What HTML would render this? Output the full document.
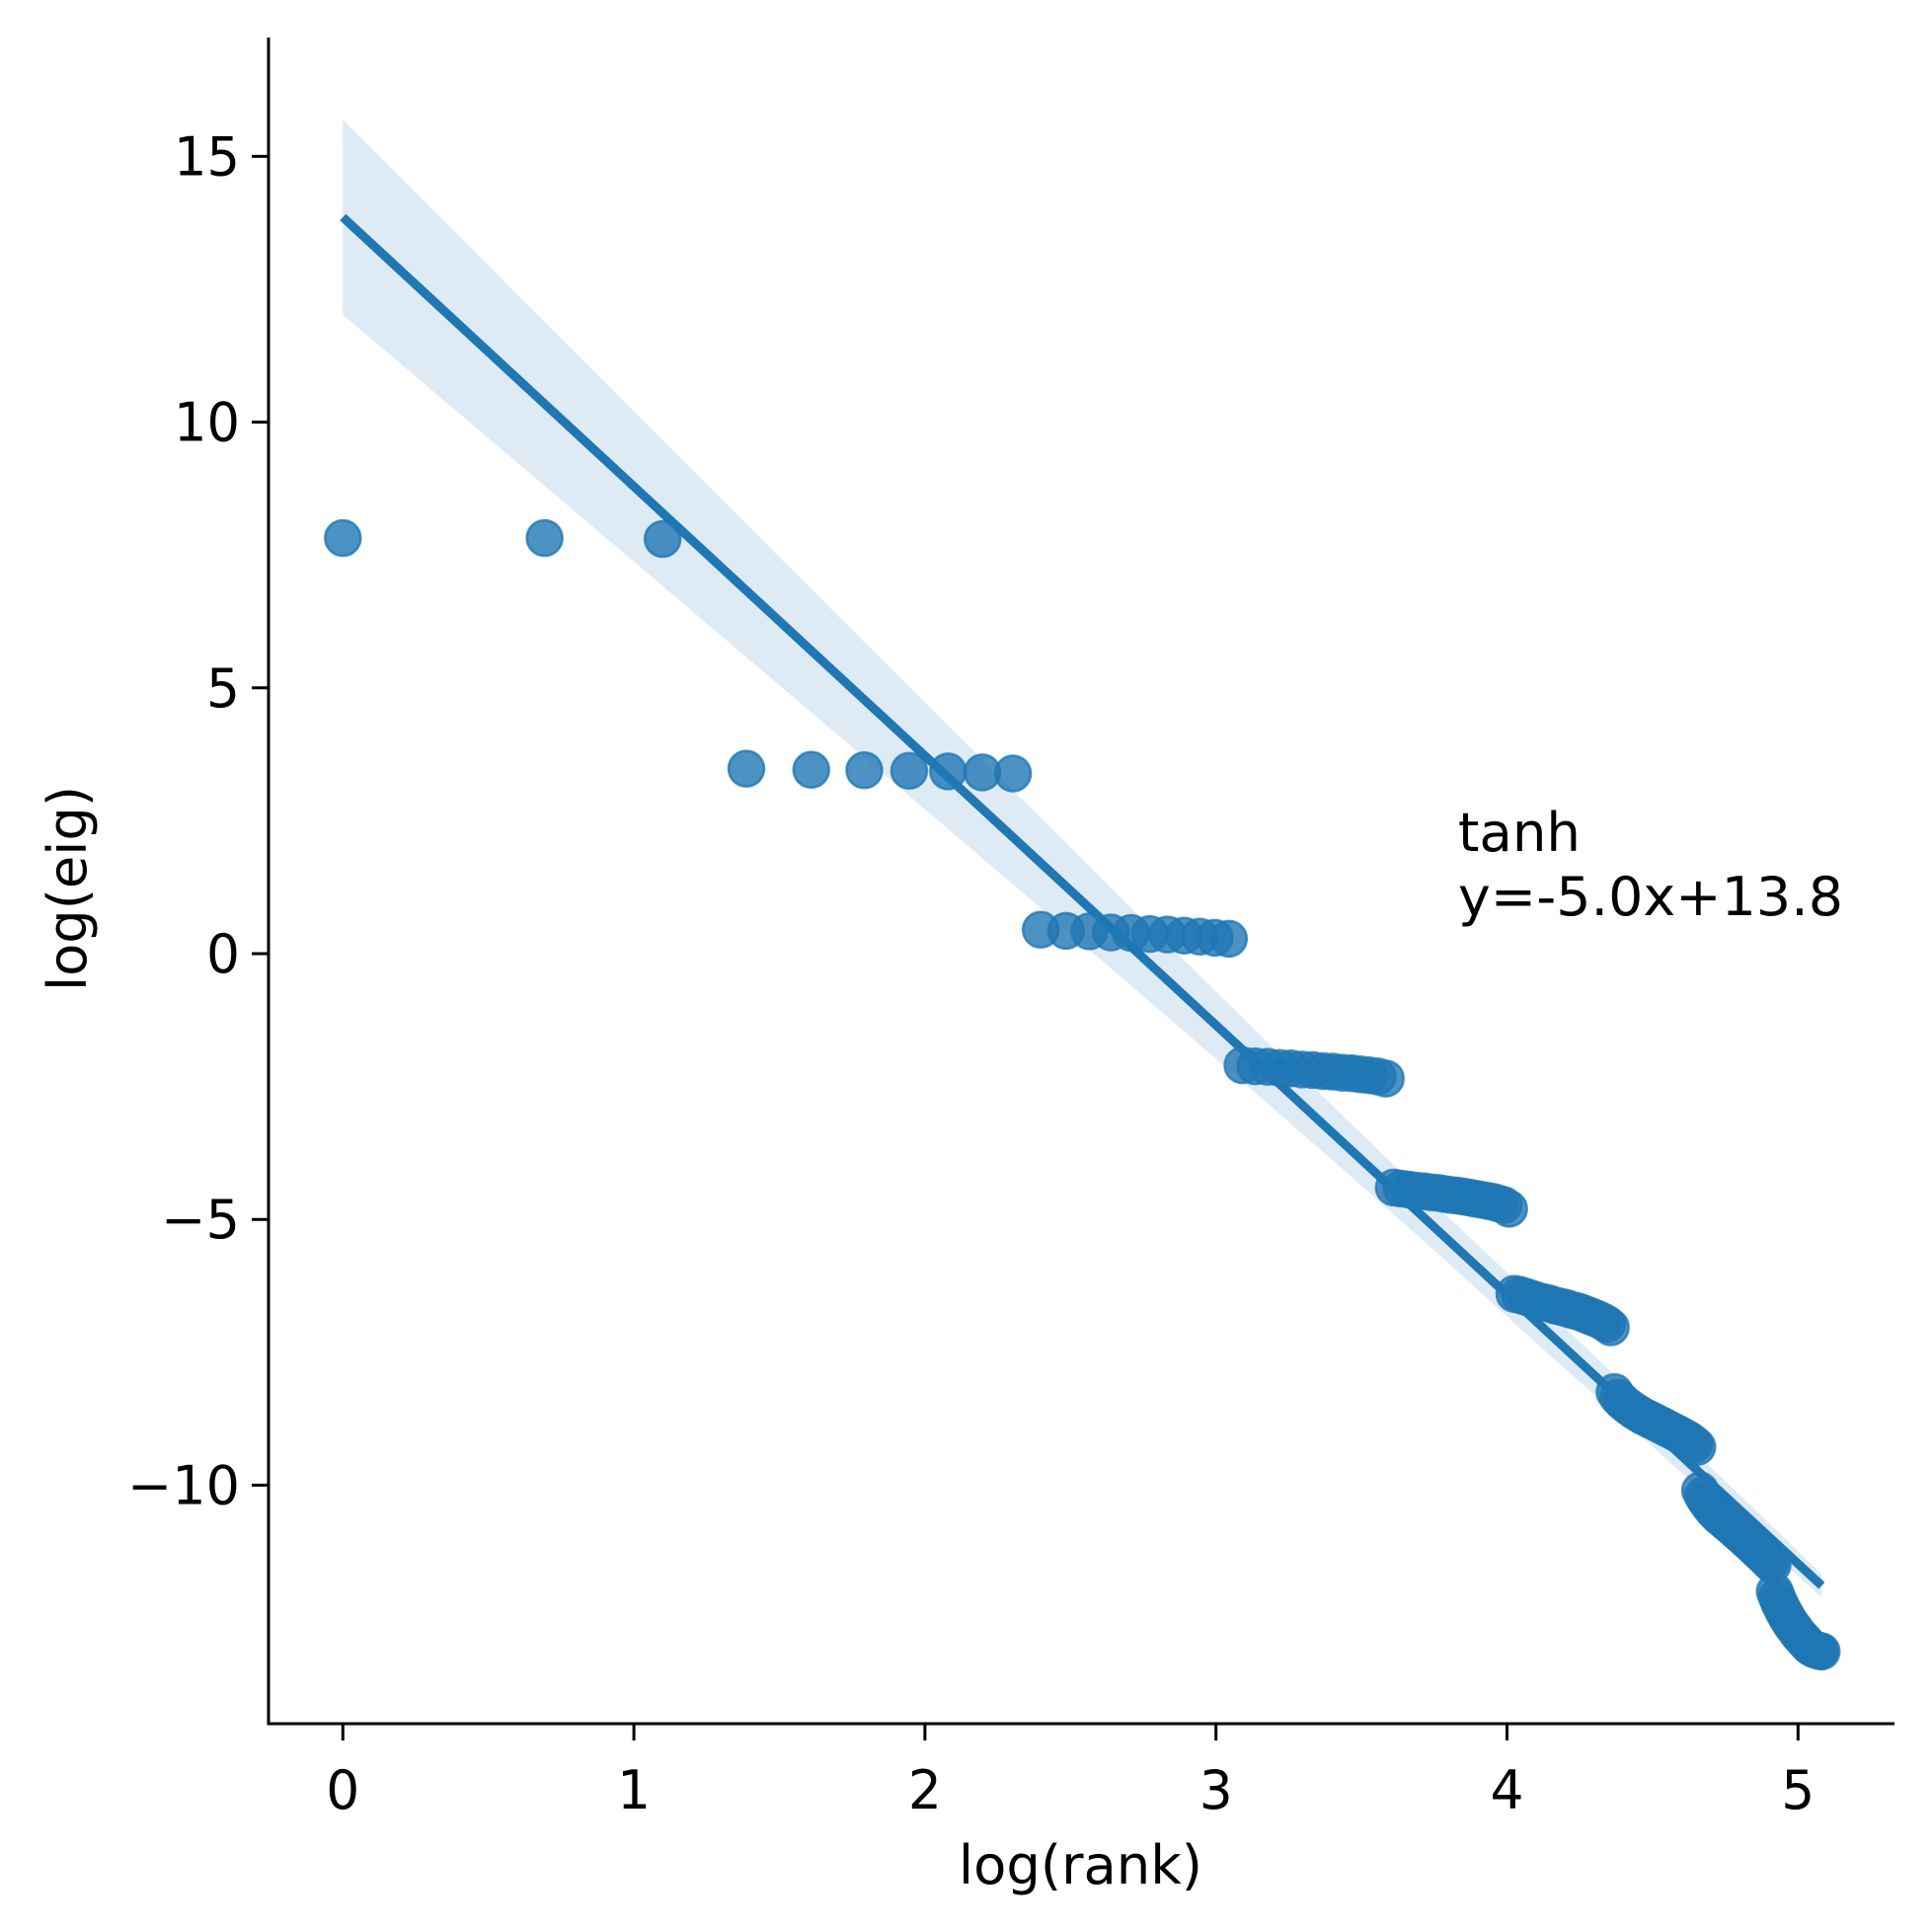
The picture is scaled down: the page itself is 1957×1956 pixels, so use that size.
<!DOCTYPE html>
<html><head><meta charset="utf-8"><style>
html,body{margin:0;padding:0;background:#fff;}
svg{display:block;font-family:"DejaVu Sans","Liberation Sans",sans-serif;}
</style></head><body>
<svg id="chart" width="1957" height="1956" viewBox="0 0 1957 1956" xmlns="http://www.w3.org/2000/svg">
<rect width="1957" height="1956" fill="#fff"/>
<g id="band"></g>
<g id="line"></g>
<g id="points"></g>
<g id="axes"></g>
<text x="1477" y="862" font-size="54" textLength="124" lengthAdjust="spacingAndGlyphs">tanh</text>
<text id="eq" x="1477" y="927" font-size="54" textLength="390" lengthAdjust="spacingAndGlyphs">y=-5.0x+13.8</text>
<text x="971" y="1908" font-size="54" textLength="247" lengthAdjust="spacingAndGlyphs">log(rank)</text>
<text x="-104" y="0" font-size="54" textLength="208" lengthAdjust="spacingAndGlyphs" transform="translate(87,900) rotate(-90)">log(eig)</text>
</svg>
<script>
const eigA = [7.82,7.82,7.80];
const eigB = [3.48,3.46,3.45,3.44,3.43,3.41,3.39];
const eigC = [0.45,0.43,0.42,0.40,0.39,0.37,0.36,0.34,0.32,0.30,0.28];
const eigD = [-2.10,-2.12,-2.13,-2.15,-2.16,-2.18,-2.19,-2.21,-2.22,-2.24,-2.25,-2.27,-2.29,-2.31,-2.35];
const eigE = [-4.40,-4.42,-4.44,-4.46,-4.47,-4.49,-4.50,-4.52,-4.54,-4.55,-4.57,-4.59,-4.61,-4.63,-4.65,-4.67,-4.70,-4.73,-4.80];
const eigF = [-6.40,-6.42,-6.45,-6.48,-6.51,-6.54,-6.56,-6.58,-6.61,-6.63,-6.65,-6.67,-6.70,-6.72,-6.74,-6.77,-6.80,-6.83,-6.86,-6.89,-6.93,-6.97,-7.03];
const eigG = [-8.25,-8.35,-8.42,-8.48,-8.53,-8.58,-8.62,-8.66,-8.70,-8.73,-8.76,-8.79,-8.82,-8.85,-8.88,-8.91,-8.94,-8.97,-9.00,-9.03,-9.06,-9.09,-9.12,-9.15,-9.19,-9.23,-9.28];
const eigH = [-10.10,-10.20,-10.28,-10.35,-10.42,-10.48,-10.53,-10.58,-10.62,-10.66,-10.70,-10.74,-10.78,-10.82,-10.86,-10.90,-10.94,-10.98,-11.02,-11.06,-11.10,-11.14,-11.18,-11.22,-11.26,-11.30,-11.34,-11.38,-11.42,-11.46,-11.50];
const eigI = [-12.00,-12.10,-12.20,-12.28,-12.36,-12.43,-12.50,-12.56,-12.62,-12.67,-12.72,-12.77,-12.82,-12.86,-12.90,-12.94,-12.98,-13.02,-13.05,-13.07,-13.09,-13.10,-13.11,-13.12,-13.13];
const xTicks = [0,1,2,3,4,5];
const yTicks = [-10,-5,0,5,10,15];

const NS='http://www.w3.org/2000/svg';
const X0=347.3, XU=294.8, Y0=966, YU=53.84;
const xs=v=>X0+v*XU, ys=v=>Y0-v*YU;
function mk(tag,attrs,parent){const e=document.createElementNS(NS,tag);for(const k in attrs)e.setAttribute(k,attrs[k]);parent.appendChild(e);return e;}

const eig=[].concat(eigA,eigB,eigC,eigD,eigE,eigF,eigG,eigH,eigI);
const lx=eig.map((_,i)=>Math.log(i+1));
const n=eig.length;
const mx=lx.reduce((a,b)=>a+b,0)/n, my=eig.reduce((a,b)=>a+b,0)/n;
let sxx=0,sxy=0;for(let i=0;i<n;i++){sxx+=(lx[i]-mx)**2;sxy+=(lx[i]-mx)*(eig[i]-my);}
const slope=sxy/sxx, icpt=my-slope*mx;
let sse=0;for(let i=0;i<n;i++){sse+=(eig[i]-(icpt+slope*lx[i]))**2;}
const se=Math.sqrt(sse/(n-2));

const xmin=lx[0], xmax=lx[n-1];
const up=[],lo=[];
for(let k=0;k<=60;k++){const x=xmin+(xmax-xmin)*k/60;const yh=icpt+slope*x;const f=2.5-1.6*Math.max(0,(x-mx)/(xmax-mx));const h=f*1.96*se*Math.sqrt(1/n+(x-mx)**2/sxx);up.push(xs(x)+','+ys(yh+h));lo.unshift(xs(x)+','+ys(yh-h));}
const band=mk('polygon',{points:up.concat(lo).join(' '),fill:'#1f77b4','fill-opacity':0.15},document.getElementById('band'));



const ln=mk('line',{x1:xs(xmin),y1:ys(icpt+slope*xmin),x2:xs(xmax),y2:ys(icpt+slope*xmax),stroke:'#1f77b4','stroke-width':9},document.getElementById('line'));



const pg=document.getElementById('points');
for(let i=0;i<n;i++){
  const c=mk('circle',{cx:xs(lx[i]),cy:ys(eig[i]),r:18,fill:'#1f77b4','fill-opacity':0.8,stroke:'#1f77b4','stroke-opacity':0.8,'stroke-width':2.5},pg);
  
  
}

const ax=document.getElementById('axes');
const L=272, R=1919, T=38, B=1746;
const a1=mk('line',{x1:L,y1:T,x2:L,y2:B+1.5,stroke:'#000','stroke-width':3},ax);


const a2=mk('line',{x1:L-1.5,y1:B,x2:R,y2:B,stroke:'#000','stroke-width':3},ax);


xTicks.forEach(t=>{
  const tk=mk('line',{x1:xs(t),y1:B,x2:xs(t),y2:B+17,stroke:'#000','stroke-width':3},ax);
  
  
  const tl=mk('text',{x:xs(t)-17,y:B+86,'font-size':54,textLength:34,lengthAdjust:'spacingAndGlyphs'},ax);
  tl.textContent=String(t);
  
  
});
yTicks.forEach(t=>{
  const tk=mk('line',{x1:L-17,y1:ys(t),x2:L,y2:ys(t),stroke:'#000','stroke-width':3},ax);
  
  
  const s=t<0?'\u2212'+Math.abs(t):String(t);
  const w=s.length===1?34:(t<0&&s.length===2?80:(s.length===2?67:114));
  const tl=mk('text',{x:L-29-w,y:ys(t)+19,'font-size':54,textLength:w,lengthAdjust:'spacingAndGlyphs'},ax);
  tl.textContent=s;
  
  
});
</script>
</body></html>
